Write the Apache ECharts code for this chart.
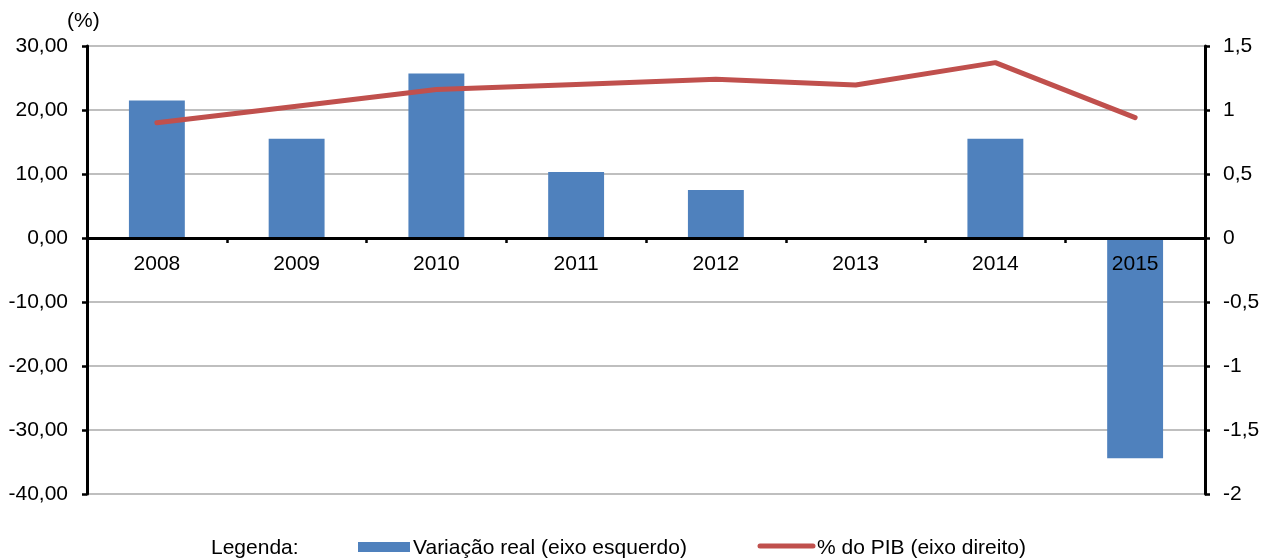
<!DOCTYPE html>
<html><head><meta charset="utf-8">
<script src="https://cdn.jsdelivr.net/npm/echarts@6/dist/echarts.min.js"></script>
<style>html,body{margin:0;padding:0;background:#fff}#c{width:1268px;height:558px}</style>
</head><body><div id="c"></div>
<script>
const categories = ['2008', '2009', '2010', '2011', '2012', '2013', '2014', '2015'];
const variacaoReal = [21.5, 15.5, 25.7, 10.3, 7.5, 0, 15.5, -34.4];
const pctPIB = [0.90, 1.03, 1.16, 1.20, 1.24, 1.195, 1.37, 0.94];
const leftAxisMin = -40, leftAxisMax = 30, leftAxisStep = 10;
const rightAxisMin = -2, rightAxisMax = 1.5, rightAxisStep = 0.5;
const seriesNames = ['Variação real (eixo esquerdo)', '% do PIB (eixo direito)'];
const legendTitle = 'Legenda:';
const unitLabel = '(%)';

const FONT = '"Liberation Sans", Arial, sans-serif';
const FS = 21;
const BAR_COLOR = '#4F81BD', LINE_COLOR = '#C0504D';
const chart = echarts.init(document.getElementById('c'), null, {renderer: 'canvas'});

const fmtLeft = v => v.toFixed(2).replace('.', ',');
const fmtRight = v => String(Math.round(v * 10) / 10).replace('.', ',');

// layout
const GRID = {left: 87, right: 63, top: 46, bottom: 64};
const plotH = 558 - GRID.top - GRID.bottom;
const zeroOffset = -plotH * (0 - leftAxisMin) / (leftAxisMax - leftAxisMin); // move x axis up to zero line

const LEG_Y = 548.5;
const legendText = (x, text) => ({
  type: 'text', x: x, y: LEG_Y,
  style: {text: text, font: FS + 'px ' + FONT, fill: '#000', verticalAlign: 'middle', align: 'left'}
});

chart.setOption({
  animation: false,
  backgroundColor: '#fff',
  grid: Object.assign({containLabel: false}, GRID),
  graphic: [
    {type: 'text', left: 67, top: 11, style: {text: unitLabel, font: FS + 'px ' + FONT, fill: '#000'}},
    legendText(211, legendTitle),
    {type: 'rect', shape: {x: 358, y: 542, width: 52, height: 10}, style: {fill: BAR_COLOR}},
    legendText(413, seriesNames[0]),
    {type: 'line', shape: {x1: 760, y1: 546, x2: 813, y2: 546}, style: {stroke: LINE_COLOR, lineWidth: 5, lineCap: 'round'}},
    legendText(817, seriesNames[1])
  ],
  xAxis: {
    type: 'category',
    data: categories,
    z: 10,
    offset: zeroOffset,
    axisLine: {onZero: false, lineStyle: {color: '#000', width: 3}},
    axisTick: {show: true, length: 5, inside: false, lineStyle: {color: '#000', width: 2.5}},
    axisLabel: {fontFamily: FONT, fontSize: FS, color: '#000', margin: 16},
    splitLine: {show: false}
  },
  yAxis: [
    {
      type: 'value', min: leftAxisMin, max: leftAxisMax, interval: leftAxisStep,
      position: 'left',
      axisLine: {show: true, onZero: false, lineStyle: {color: '#000', width: 3}},
      axisTick: {show: true, length: 5, lineStyle: {color: '#000', width: 2.5}},
      axisLabel: {fontFamily: FONT, fontSize: FS, color: '#000', margin: 19, formatter: fmtLeft},
      splitLine: {show: true, lineStyle: {color: '#bfbfbf', width: 2}}
    },
    {
      type: 'value', min: rightAxisMin, max: rightAxisMax, interval: rightAxisStep,
      position: 'right',
      axisLine: {show: true, onZero: false, lineStyle: {color: '#000', width: 3}},
      axisTick: {show: true, length: 5, lineStyle: {color: '#000', width: 2.5}},
      axisLabel: {fontFamily: FONT, fontSize: FS, color: '#000', margin: 18, formatter: fmtRight},
      splitLine: {show: false}
    }
  ],
  series: [
    {
      name: seriesNames[0], type: 'bar', yAxisIndex: 0,
      data: variacaoReal, barWidth: '40%',
      itemStyle: {color: BAR_COLOR}
    },
    {
      name: seriesNames[1], type: 'line', yAxisIndex: 1,
      data: pctPIB, symbol: 'none', showSymbol: false,
      itemStyle: {color: LINE_COLOR},
      lineStyle: {color: LINE_COLOR, width: 5, cap: 'round', join: 'round'}
    }
  ]
});
</script></body></html>
